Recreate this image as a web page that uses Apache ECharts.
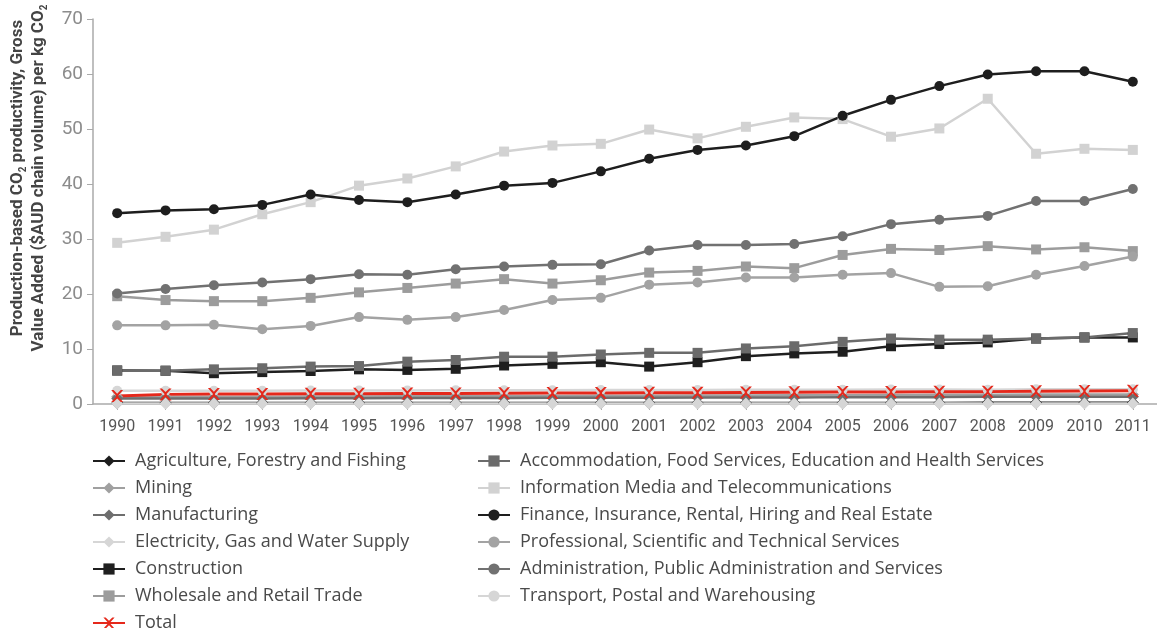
<!DOCTYPE html>
<html>
<head>
<meta charset="utf-8">
<script src="https://cdn.jsdelivr.net/npm/echarts@6/dist/echarts.min.js"></script>
<style>
html,body{margin:0;padding:0;background:#fff;}
#c{width:1157px;height:628px;}
</style>
</head>
<body>
<div id="c"></div>
<script>
var years = ['1990','1991','1992','1993','1994','1995','1996','1997','1998','1999','2000','2001','2002','2003','2004','2005','2006','2007','2008','2009','2010','2011'];
var agriculture = [0.2,0.2,0.2,0.2,0.2,0.2,0.2,0.2,0.2,0.2,0.2,0.2,0.2,0.2,0.2,0.2,0.2,0.2,0.25,0.25,0.25,0.25];
var mining = [1.3,1.3,1.3,1.3,1.35,1.35,1.4,1.4,1.45,1.45,1.5,1.5,1.55,1.55,1.6,1.6,1.65,1.7,1.7,1.75,1.75,1.75];
var manufacturing = [1.0,1.0,1.0,1.0,1.05,1.05,1.1,1.1,1.1,1.15,1.15,1.15,1.2,1.2,1.2,1.25,1.25,1.25,1.3,1.3,1.3,1.3];
var electricity = [0.1,0.1,0.1,0.1,0.1,0.1,0.1,0.1,0.1,0.1,0.1,0.1,0.1,0.1,0.1,0.1,0.1,0.1,0.1,0.1,0.1,0.1];
var construction = [6.1,6.05,5.6,5.8,6.0,6.3,6.2,6.4,7.0,7.3,7.6,6.8,7.6,8.7,9.2,9.5,10.5,10.9,11.2,11.9,12.1,12.1];
var wholesale = [19.6,18.9,18.7,18.7,19.3,20.3,21.1,21.9,22.7,21.9,22.5,23.9,24.2,25.0,24.7,27.1,28.2,28.0,28.7,28.1,28.5,27.8];
var accommodation = [6.05,6.05,6.3,6.5,6.8,6.9,7.7,8.0,8.6,8.6,9.0,9.3,9.3,10.1,10.5,11.3,11.9,11.7,11.7,11.9,12.1,12.9];
var information = [29.3,30.4,31.7,34.5,36.7,39.7,41.0,43.2,45.9,47.0,47.3,49.9,48.3,50.4,52.1,51.8,48.6,50.1,55.5,45.5,46.4,46.2];
var finance = [34.7,35.2,35.4,36.2,38.1,37.1,36.7,38.1,39.7,40.2,42.3,44.6,46.2,47.0,48.7,52.4,55.3,57.8,59.9,60.5,60.5,58.6];
var professional = [14.3,14.3,14.4,13.6,14.2,15.8,15.3,15.8,17.1,18.9,19.3,21.7,22.1,23.0,23.0,23.5,23.8,21.3,21.4,23.5,25.1,26.8];
var administration = [20.1,20.9,21.6,22.1,22.7,23.6,23.5,24.5,25.0,25.3,25.4,27.9,28.9,28.9,29.1,30.5,32.7,33.5,34.2,36.9,36.9,39.1];
var transport = [2.4,2.4,2.4,2.4,2.45,2.45,2.45,2.5,2.5,2.5,2.55,2.55,2.55,2.6,2.6,2.6,2.65,2.65,2.6,2.7,2.7,2.7];
var total = [1.45,1.75,1.8,1.8,1.85,1.85,1.9,1.9,1.95,2.0,2.0,2.05,2.05,2.1,2.15,2.2,2.2,2.25,2.25,2.3,2.35,2.4];
var yTicks = [0,10,20,30,40,50,60,70];

var leftNames = ['Agriculture, Forestry and Fishing','Mining','Manufacturing','Electricity, Gas and Water Supply','Construction','Wholesale and Retail Trade','Total'];
var rightNames = ['Accommodation, Food Services, Education and Health Services','Information Media and Telecommunications','Finance, Insurance, Rental, Hiring and Real Estate','Professional, Scientific and Technical Services','Administration, Public Administration and Services','Transport, Postal and Warehousing'];

function mk(name, data, color, symbol, size, width) {
  return {
    name: name, type: 'line', data: data, symbol: symbol, symbolSize: size,
    lineStyle: {color: color, width: width || 2.5},
    itemStyle: {color: color},
    emphasis: {disabled: true}
  };
}
var crossPath = 'path://M0,0 L2,0 L5,3 L8,0 L10,0 L6,4.5 L6,5.5 L10,10 L8,10 L5,7 L2,10 L0,10 L4,5.5 L4,4.5 Z';

var series = [
  mk(leftNames[0], agriculture, '#1e1e1e', 'diamond', 12),
  mk(leftNames[1], mining, '#a0a0a0', 'diamond', 12),
  mk(leftNames[2], manufacturing, '#6e6e6e', 'diamond', 12),
  mk(leftNames[3], electricity, '#d6d6d6', 'diamond', 12),
  mk(leftNames[4], construction, '#1f1f1f', 'rect', 10),
  mk(leftNames[5], wholesale, '#9c9c9c', 'rect', 10),
  mk(rightNames[0], accommodation, '#6b6b6b', 'rect', 10),
  mk(rightNames[1], information, '#d2d2d2', 'rect', 10),
  mk(rightNames[2], finance, '#1e1e1e', 'circle', 10),
  mk(rightNames[3], professional, '#a3a3a3', 'circle', 10),
  mk(rightNames[4], administration, '#717171', 'circle', 10),
  mk(rightNames[5], transport, '#d6d6d6', 'circle', 10),
  mk(leftNames[6], total, '#e5281b', crossPath, 12, 3)
];

var legendText = {color: '#4a4a4a', fontSize: 18, fontFamily: 'Open Sans', padding: [0,0,0,5]};
var legendBase = {orient: 'vertical', padding: 0, itemWidth: 32, itemHeight: 14, itemGap: 9, textStyle: legendText, selectedMode: false};
var chart = echarts.init(document.getElementById('c'), null, {renderer: 'canvas'});
chart.setOption({
  animation: false,
  backgroundColor: '#fff',
  grid: {left: 93, right: -2, top: 19, bottom: 224, containLabel: false},
  xAxis: {
    type: 'category', data: years, boundaryGap: true,
    axisLine: {lineStyle: {color: '#aaaaaa', width: 1.5}},
    axisTick: {show: true, alignWithLabel: true, length: 6, lineStyle: {color: '#aaaaaa'}},
    axisLabel: {color: '#555', fontSize: 16, fontFamily: 'Roboto', margin: 15}
  },
  yAxis: {
    type: 'value', min: yTicks[0], max: yTicks[yTicks.length-1], interval: 10,
    axisLine: {show: true, lineStyle: {color: '#aaaaaa', width: 1.5}},
    axisTick: {show: true, length: 6, lineStyle: {color: '#aaaaaa'}},
    splitLine: {show: false},
    axisLabel: {color: '#8c8c8c', fontSize: 19, fontFamily: 'Roboto', margin: 10}
  },
  legend: [
    Object.assign({}, legendBase, {data: leftNames.slice(0, 6), left: 92, top: 452, height: 170}),
    Object.assign({}, legendBase, {data: leftNames.slice(6), left: 92, top: 614, height: 14}),
    Object.assign({}, legendBase, {data: rightNames, left: 477, top: 452, height: 170})
  ],
  graphic: [{
    type: 'text', x: 28, y: 178, rotation: Math.PI/2,
    style: {
      text: '{b|Production-based CO}{s|2}{b| productivity, Gross}\n{b|Value Added ($AUD chain volume) per kg CO}{s|2}',
      align: 'center', verticalAlign: 'middle', lineHeight: 21,
      rich: {
        b: {fontSize: 17, fontWeight: 'bold', fontFamily: 'Roboto', fill: '#444', lineHeight: 21},
        s: {fontSize: 10, fontWeight: 'bold', fontFamily: 'Roboto', fill: '#444', lineHeight: 21, verticalAlign: 'bottom', padding: [8,0,0,0]}
      }
    }
  }],
  series: series
});
</script>
</body>
</html>
